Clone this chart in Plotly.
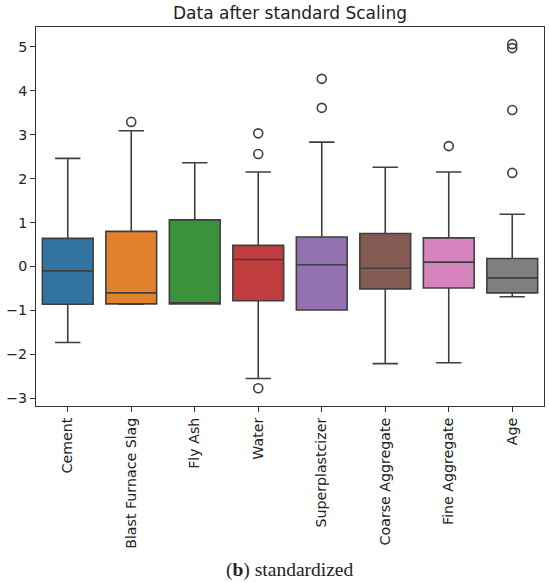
import plotly.graph_objects as go

# Box statistics
features = ["Cement", "Blast Furnace Slag", "Fly Ash", "Water",
            "Superplastcizer", "Coarse Aggregate", "Fine Aggregate", "Age"]
lower_fence = [-1.73, -0.86, -0.85, -2.55, -0.99, -2.21, -2.19, -0.69]
q1_vals = [-0.86, -0.85, -0.85, -0.78, -0.99, -0.51, -0.49, -0.60]
median_vals = [-0.10, -0.60, -0.85, 0.16, 0.04, -0.04, 0.10, -0.26]
q3_vals = [0.64, 0.80, 1.06, 0.48, 0.67, 0.75, 0.65, 0.18]
upper_fence = [2.46, 3.09, 2.36, 2.15, 2.83, 2.26, 2.15, 1.19]
outliers = [[], [3.29], [], [3.03, 2.56, -2.77], [4.27, 3.61], [], [2.74],
            [5.06, 4.97, 3.56, 2.13]]
colors = ["#3274a1", "#e1812c", "#3a923a", "#c03d3e",
          "#9372b2", "#845b53", "#d684bd", "#7f7f7f"]

line_col = "#3f3f3f"

fig = go.Figure()
for i, name in enumerate(features):
    fig.add_trace(go.Box(
        x=[name], q1=[q1_vals[i]], median=[median_vals[i]], q3=[q3_vals[i]],
        lowerfence=[lower_fence[i]], upperfence=[upper_fence[i]],
        fillcolor=colors[i], line=dict(color=line_col, width=1.6),
        width=0.8, whiskerwidth=0.5, boxpoints=False, showlegend=False,
    ))
    if outliers[i]:
        fig.add_trace(go.Scatter(
            x=[name] * len(outliers[i]), y=outliers[i], mode="markers",
            marker=dict(symbol="circle-open", size=9, color=line_col,
                        line=dict(width=1.6, color=line_col)),
            showlegend=False,
        ))

fig.update_layout(
    width=550, height=583,
    margin=dict(l=36, r=6, t=27, b=177),
    plot_bgcolor="white", paper_bgcolor="white",
    font=dict(family="DejaVu Sans", size=14.2, color="#222222"),
    title=dict(text="Data after standard Scaling", x=0.5, xref="paper",
               y=1 - 13 / 583, yanchor="middle",
               font=dict(size=17, color="#222222")),
    annotations=[dict(
        text="(<b>b</b>) standardized", xref="paper", yref="paper",
        x=0.5, y=-0.433, yanchor="middle", showarrow=False,
        font=dict(family="Liberation Serif", size=19.5, color="#222222"),
    )],
)
fig.update_xaxes(
    type="category", categoryorder="array", categoryarray=features,
    range=[-0.5, 7.5], tickangle=-90, ticks="outside", ticklen=5,
    tickcolor="#333333", showline=True, linecolor="#333333", linewidth=1,
    mirror=True, showgrid=False, zeroline=False, automargin=False,
)
fig.update_yaxes(
    range=[-3.175, 5.45], tickvals=[-3, -2, -1, 0, 1, 2, 3, 4, 5],
    ticks="outside", ticklen=5, tickcolor="#333333", showline=True,
    linecolor="#333333", linewidth=1, mirror=True, showgrid=False,
    zeroline=False, automargin=False,
)

# drop the browser's default body margin so the figure sits at the page corner
fig.write_html("out.html", config={"displayModeBar": False},
               post_script="document.body.style.margin='0';")
